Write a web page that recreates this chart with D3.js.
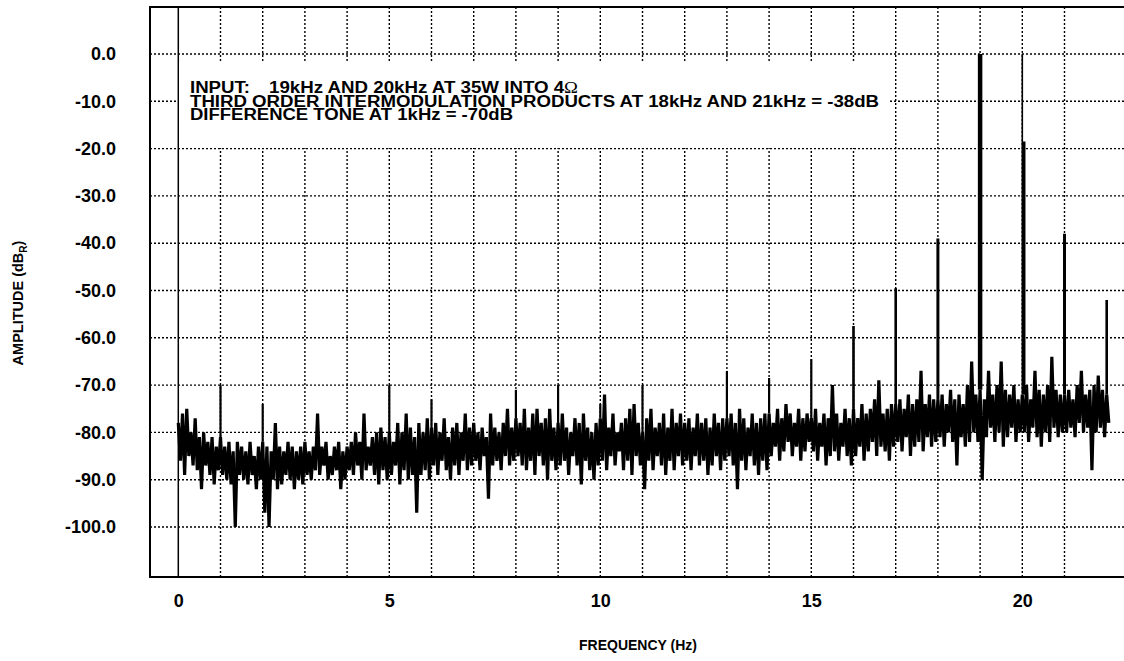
<!DOCTYPE html>
<html>
<head>
<meta charset="utf-8">
<script src="https://cdn.jsdelivr.net/npm/d3@7"></script>
<style>
  body { margin: 0; background: #fff; }
  svg { display: block; font-family: "Liberation Sans", Arial, sans-serif; font-weight: bold; }
</style>
</head>
<body>
<script>
// noise floor, one pair (upper / lower excursion) per 0.1 kHz starting at 0 kHz
var floorStep = 0.1;
var floorHigh = [
  -78, -76, -75, -80, -77, -81, -80, -82, -81, -83,
  -81, -83, -82, -84, -82, -83, -84, -82, -85, -83,
  -82, -83, -84, -78, -83, -84, -82, -83, -84, -83,
  -82, -84, -83, -76, -83, -82, -85, -83, -82, -84,
  -83, -82, -80, -82, -76, -83, -81, -80, -79, -81,
  -80, -82, -78, -80, -76, -79, -81, -78, -80, -77,
  -79, -78, -80, -77, -81, -79, -78, -80, -76, -79,
  -78, -80, -79, -81, -76, -79, -80, -78, -75, -79,
  -77, -78, -75, -79, -76, -75, -78, -77, -75, -79,
  -78, -76, -79, -80, -77, -78, -76, -79, -80, -78,
  -77, -72, -79, -76, -80, -78, -77, -75, -74, -78,
  -80, -77, -75, -79, -78, -76, -79, -75, -78, -76,
  -78, -77, -79, -76, -78, -77, -79, -76, -78, -77,
  -77, -76, -78, -75, -77, -79, -76, -78, -77, -76,
  -76, -78, -75, -77, -74, -76, -78, -75, -77, -76,
  -77, -75, -78, -76, -77, -70, -76, -78, -75, -77,
  -75, -77, -74, -76, -75, -73, -69, -76, -75, -74,
  -74, -73, -75, -72, -74, -73, -67, -74, -72, -73,
  -73, -72, -74, -71, -73, -72, -74, -70, -65, -72,
  -71, -73, -67, -72, -70, -65, -71, -72, -70, -73,
  -72, -70, -73, -67, -71, -72, -70, -64, -71, -72,
  -72, -71, -73, -70, -67, -72, -71, -70, -68, -71,
  -72
];
var floorLow = [
  -86, -89, -85, -87, -88, -92, -87, -89, -91, -88,
  -89, -90, -91, -100, -89, -90, -91, -89, -92, -90,
  -97, -100, -90, -92, -91, -89, -90, -92, -90, -91,
  -89, -90, -88, -89, -87, -90, -89, -88, -92, -90,
  -88, -89, -87, -90, -88, -87, -89, -91, -88, -90,
  -89, -87, -91, -88, -90, -89, -97, -89, -88, -90,
  -87, -89, -86, -88, -90, -87, -89, -86, -88, -87,
  -86, -88, -85, -94, -87, -86, -88, -85, -87, -86,
  -85, -87, -88, -86, -89, -85, -87, -90, -86, -88,
  -87, -86, -89, -85, -87, -91, -86, -88, -90, -87,
  -86, -88, -85, -87, -84, -88, -86, -89, -85, -87,
  -92, -86, -88, -85, -87, -89, -86, -88, -85, -87,
  -86, -88, -85, -87, -86, -89, -87, -85, -88, -86,
  -85, -87, -92, -86, -88, -85, -87, -89, -86, -88,
  -85, -83, -86, -84, -82, -85, -83, -86, -84, -82,
  -84, -86, -83, -87, -85, -84, -86, -83, -85, -87,
  -85, -83, -86, -84, -82, -85, -83, -84, -86, -83,
  -82, -84, -81, -85, -83, -82, -84, -81, -83, -82,
  -81, -83, -80, -82, -87, -81, -83, -82, -80, -82,
  -90, -81, -79, -82, -80, -83, -81, -79, -82, -80,
  -80, -82, -79, -81, -83, -80, -82, -79, -81, -80,
  -80, -79, -81, -78, -80, -79, -88, -80, -79, -81,
  -78
];

// discrete tones and products (kHz, dB)
var toneFreqs  = [1, 2, 5, 6, 8, 9, 10, 11, 13, 14, 15, 16, 17, 18, 19, 20, 20.04, 21, 22];
var toneLevels = [-70, -74, -70, -73, -71, -70, -74, -70, -67, -68.5, -64.5, -57.5, -49.5, -39, 0, 0, -18.5, -38, -52];

var xTicks = [0, 5, 10, 15, 20];
var gridFreqs = [1, 2, 3, 4, 5, 6, 7, 8, 9, 10, 11, 12, 13, 14, 15, 16, 17, 18, 19, 20, 21];
var yTicks = [0, -10, -20, -30, -40, -50, -60, -70, -80, -90, -100];

var noteLines = [
  "THIRD ORDER INTERMODULATION PRODUCTS AT 18kHz AND 21kHz = -38dB",
  "DIFFERENCE TONE AT 1kHz = -70dB"
];

var W = 1124, H = 661;
var frame = { left: 150, top: 7, bottom: 577, right: 1130 };

var svg = d3.select("body").append("svg")
  .attr("width", W)
  .attr("height", H);

var x = d3.scaleLinear().domain([0, 20]).range([178.3, 1022.3]);
var y = d3.scaleLinear().domain([0, -100]).range([54, 527]);

// grid
svg.append("g").selectAll("line")
  .data(yTicks)
  .enter().append("line")
  .attr("x1", frame.left).attr("x2", frame.right)
  .attr("y1", function(d) { return y(d); })
  .attr("y2", function(d) { return y(d); })
  .attr("stroke", "#000")
  .attr("stroke-width", 1.4)
  .attr("stroke-dasharray", "2,2");

svg.append("g").selectAll("line")
  .data(gridFreqs)
  .enter().append("line")
  .attr("x1", function(d) { return x(d); })
  .attr("x2", function(d) { return x(d); })
  .attr("y1", frame.top).attr("y2", frame.bottom)
  .attr("stroke", "#000")
  .attr("stroke-width", 1.4)
  .attr("stroke-dasharray", "2,2");

// solid line at 0 Hz
svg.append("line")
  .attr("x1", x(0)).attr("x2", x(0))
  .attr("y1", frame.top).attr("y2", frame.bottom)
  .attr("stroke", "#000")
  .attr("stroke-width", 1.5);

// frame (open on the right)
svg.append("path")
  .attr("d", "M" + frame.right + "," + frame.top + "H" + frame.left + "V" + frame.bottom + "H" + frame.right)
  .attr("fill", "none")
  .attr("stroke", "#000")
  .attr("stroke-width", 2);

// noise floor trace
var pts = [];
floorHigh.forEach(function(v, i) {
  pts.push([i * floorStep, v]);
  pts.push([i * floorStep + floorStep / 2, floorLow[i]]);
});

var line = d3.line()
  .x(function(d) { return x(d[0]); })
  .y(function(d) { return y(d[1]); });

svg.append("path")
  .attr("d", line(pts))
  .attr("fill", "none")
  .attr("stroke", "#000")
  .attr("stroke-width", 3.2)
  .attr("stroke-linejoin", "bevel");

// tones
function toneWidth(f, lvl) {
  if (lvl >= -1) return f < 19.5 ? 4.5 : 1.6;
  if (lvl > -45) return 3;
  if (lvl > -60) return 2.6;
  return 2.2;
}

svg.append("g").selectAll("line")
  .data(toneFreqs)
  .enter().append("line")
  .attr("x1", function(d) { return x(d); })
  .attr("x2", function(d) { return x(d); })
  .attr("y1", function(d, i) { return y(toneLevels[i]); })
  .attr("y2", function(d) { return y(floorHigh[Math.round(d / floorStep)]); })
  .attr("stroke", "#000")
  .attr("stroke-width", function(d, i) { return toneWidth(d, toneLevels[i]); });

// annotation box
svg.append("rect")
  .attr("x", 179).attr("y", 62)
  .attr("width", 709).attr("height", 86)
  .attr("fill", "#fff");

var note = svg.append("g").attr("font-size", 16).attr("fill", "#000");
note.append("text").attr("x", 190).attr("y", 93)
  .attr("textLength", 60).attr("lengthAdjust", "spacingAndGlyphs")
  .text("INPUT:");
var t1 = note.append("text").attr("x", 269).attr("y", 93)
  .attr("textLength", 309).attr("lengthAdjust", "spacingAndGlyphs");
t1.append("tspan").text("19kHz AND 20kHz AT 35W INTO 4");
t1.append("tspan").attr("font-family", "'Liberation Serif', serif").attr("font-weight", "normal").text("\u03A9");

note.selectAll("text.ln")
  .data(noteLines)
  .enter().append("text")
  .attr("class", "ln")
  .attr("x", 190)
  .attr("y", function(d, i) { return 106.6 + i * 13.5; })
  .attr("textLength", function(d, i) { return i === 0 ? 689 : 323; })
  .attr("lengthAdjust", "spacingAndGlyphs")
  .text(function(d) { return d; });

// axes (labels only)
var yAxis = d3.axisLeft(y)
  .tickValues(yTicks)
  .tickSize(0)
  .tickPadding(34)
  .tickFormat(function(d) { return d.toFixed(1); });

var gy = svg.append("g")
  .attr("transform", "translate(" + frame.left + ",0)")
  .call(yAxis);
gy.select(".domain").remove();
gy.selectAll("text").attr("font-size", 18).attr("font-weight", "bold").attr("font-family", "'Liberation Sans', Arial, sans-serif").attr("fill", "#000");

var xAxis = d3.axisBottom(x)
  .tickValues(xTicks)
  .tickSize(0)
  .tickPadding(17)
  .tickFormat(function(d) { return d; });

var gx = svg.append("g")
  .attr("transform", "translate(0," + frame.bottom + ")")
  .call(xAxis);
gx.select(".domain").remove();
gx.selectAll("text").attr("font-size", 18).attr("font-weight", "bold").attr("font-family", "'Liberation Sans', Arial, sans-serif").attr("fill", "#000");

// axis titles
svg.append("text")
  .attr("x", 638).attr("y", 650)
  .attr("text-anchor", "middle")
  .attr("font-size", 14)
  .text("FREQUENCY (Hz)");

var yt = svg.append("text")
  .attr("transform", "translate(23,303) rotate(-90)")
  .attr("text-anchor", "middle")
  .attr("font-size", 14.5);
yt.append("tspan").text("AMPLITUDE (dB");
yt.append("tspan").attr("font-size", 10).attr("dy", 4).text("R");
yt.append("tspan").attr("dy", -4).text(")");
</script>
</body>
</html>
